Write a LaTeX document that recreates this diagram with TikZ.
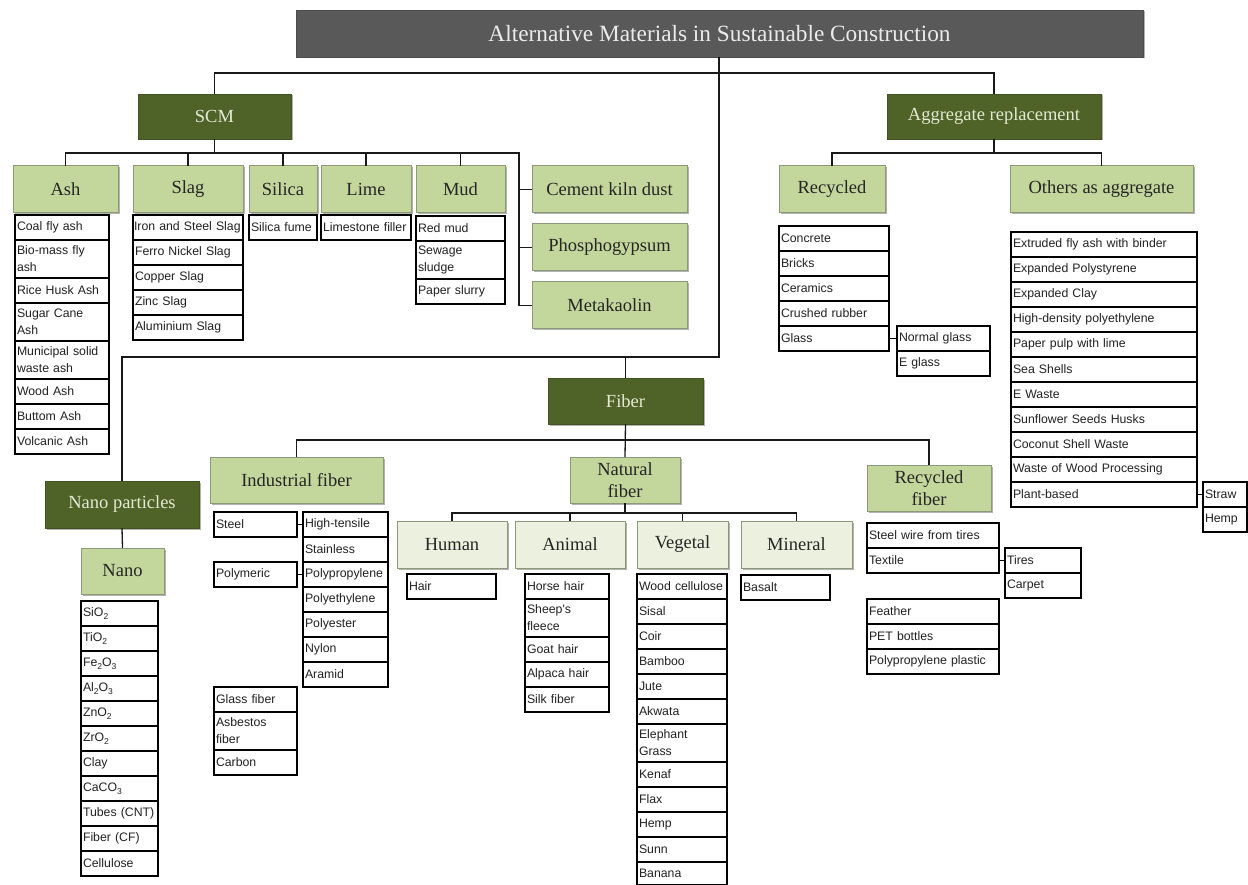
\documentclass[tikz,border=0pt]{standalone}
\usepackage{fontspec}
\setmainfont{Liberation Serif}
\newfontfamily\arialf{Liberation Sans}
\usetikzlibrary{shadows}
\definecolor{titlegray}{HTML}{595959}
\definecolor{olive}{HTML}{4F6228}
\definecolor{lgreen}{HTML}{C3D69B}
\definecolor{pgreen}{HTML}{EBF1DE}
\definecolor{hdrtxt}{HTML}{E3EAD3}
\definecolor{itemtxt}{HTML}{222222}
\definecolor{boxline}{HTML}{8C9A7A}
\newcommand\chsub[1]{\raisebox{-3pt}{\fontsize{8.5}{8}\selectfont #1}}
\begin{document}
\begin{tikzpicture}[x=1pt,y=-1pt,
  every node/.style={outer sep=0pt},
  sz/.style 2 args={minimum width=#1pt, minimum height=#2pt},
  box/.style={anchor=north west, inner sep=0pt, align=center,
    drop shadow={shadow xshift=1.5pt, shadow yshift=-1.5pt, fill=black, opacity=0.3}},
  ttl/.style={box, fill=titlegray, draw=titlegray!85!black, text=white!92!black,
    font=\fontsize{23.3}{25}\selectfont},
  dark/.style={box, fill=olive, draw=olive!85!black, text=hdrtxt,
    font=\fontsize{18.5}{21}\selectfont},
  cat/.style={box, fill=lgreen, draw=boxline, line width=1pt, text=black!85,
    font=\fontsize{18.5}{21}\selectfont},
  sub/.style={box, fill=pgreen, draw=boxline, line width=1pt, text=black!85,
    font=\fontsize{18.5}{21}\selectfont},
  item/.style={draw=black, line width=1.2pt, fill=white, anchor=north west,
    inner xsep=2pt, inner ysep=0pt, minimum height=25pt, align=left, text=itemtxt,
    font=\arialf\fontsize{12.3}{17}\selectfont},
  tall/.style={minimum height=38pt},
  tw/.style={text width=#1pt},
  conn/.style={draw=black!90, line width=1.3pt}]
\useasboundingbox[fill=white] (0,0) rectangle (1248,885);

% ---------- header boxes ----------
\node[ttl, sz={847}{47}] (title) at (296,10) {Alternative Materials in Sustainable Construction};
\node[dark, sz={153}{45}] (scm) at (138,94) {SCM};
\node[dark, sz={214}{45}] (agg) at (887,94) {Aggregate replacement};
\node[dark, sz={155}{46}] (fiber) at (548,378) {Fiber};
\node[dark, sz={154}{47}] (nanop) at (45,481) {Nano particles};

% ---------- SCM categories ----------
\node[cat, sz={105}{47}] (ash) at (13,166) {Ash};
\node[cat, sz={110}{47}] (slag) at (133,166) {Slag};
\node[cat, sz={68}{47}] (silica) at (249,166) {Silica};
\node[cat, sz={90}{47}] (lime) at (321,166) {Lime};
\node[cat, sz={89}{47}] (mud) at (416,166) {Mud};
\node[cat, sz={155}{47}] (ckd) at (532,166) {Cement kiln dust};
\node[cat, sz={155}{47}] (phos) at (532,224) {Phosphogypsum};
\node[cat, sz={155}{47}] (meta) at (532,282) {Metakaolin};

% ---------- Aggregate categories ----------
\node[cat, sz={106}{47}] (recy) at (779,166) {Recycled};
\node[cat, sz={183}{47}] (oth) at (1010,166) {Others as aggregate};

% ---------- Nano ----------
\node[cat, sz={83}{46}] (nano) at (81,548) {Nano};

% ---------- Fiber categories ----------
\node[cat, sz={173}{46}] (ind) at (210,457) {Industrial fiber};
\node[cat, sz={110}{46}, font=\fontsize{18.5}{22}\selectfont] (nat) at (570,457) {Natural\\fiber};
\node[cat, sz={124}{46}, font=\fontsize{18.5}{22}\selectfont] (recf) at (867,465) {Recycled\\fiber};
\node[sub, sz={110}{47}] (human) at (397,521) {Human};
\node[sub, sz={110}{47}] (animal) at (515,521) {Animal};
\node[sub, sz={91}{47}] (vegetal) at (637,521) {Vegetal};
\node[sub, sz={111}{47}] (mineral) at (741,521) {Mineral};

% ---------- connectors ----------
\coordinate (tbus) at (719,73);
\coordinate (corner) at (719,357);
\draw[conn] (title.south -| corner) -- (corner) -| (nanop.north);
\draw[conn] (scm.north) |- (tbus) -| (agg.north);
\draw[conn] (fiber.north) -- (fiber.north |- corner);
\draw[conn] (nanop.south) -- (nano.north);

\coordinate (scmbus) at (214.5,153);
\coordinate (mbus) at (519,153);
\draw[conn] (scm.south) -- (scmbus);
\draw[conn] (ash.north) |- (scmbus);
\draw[conn] (slag.north) |- (scmbus);
\draw[conn] (silica.north) |- (scmbus);
\draw[conn] (lime.north) |- (scmbus);
\draw[conn] (mud.north) |- (scmbus);
\draw[conn] (scmbus) -- (mbus) |- (meta.west);
\draw[conn] (ckd.west) -- (ckd.west -| mbus);
\draw[conn] (phos.west) -- (phos.west -| mbus);

\coordinate (aggbus) at (994,153);
\draw[conn] (agg.south) -- (aggbus);
\draw[conn] (recy.north) |- (aggbus) -| (oth.north);

\coordinate (fbus) at (625.5,440);
\draw[conn] (fiber.south) -- (nat.north);
\draw[conn] (ind.north) |- (fbus) -| (recf.north);

\coordinate (nbus) at (625,513);
\draw[conn] (nat.south) -- (nbus);
\draw[conn] (human.north) |- (nbus) -| (mineral.north);
\draw[conn] (animal.north) |- (nbus);
\draw[conn] (vegetal.north) |- (nbus);

% ---------- Ash items ----------
\node[item, tw=90] (a1) at (15,215) {Coal fly ash};
\node[item, tw=90, tall] (a2) at (a1.south west) {Bio-mass fly\\ash};
\node[item, tw=90] (a3) at (a2.south west) {Rice Husk Ash};
\node[item, tw=90, tall] (a4) at (a3.south west) {Sugar Cane\\Ash};
\node[item, tw=90, tall] (a5) at (a4.south west) {Municipal solid\\waste ash};
\node[item, tw=90] (a6) at (a5.south west) {Wood Ash};
\node[item, tw=90] (a7) at (a6.south west) {Buttom Ash};
\node[item, tw=90] (a8) at (a7.south west) {Volcanic Ash};

% ---------- Slag items ----------
\node[item, tw=108, inner xsep=1pt] (s1) at (133,215) {Iron and Steel Slag};
\node[item, tw=106] (s2) at (s1.south west) {Ferro Nickel Slag};
\node[item, tw=106] (s3) at (s2.south west) {Copper Slag};
\node[item, tw=106] (s4) at (s3.south west) {Zinc Slag};
\node[item, tw=106] (s5) at (s4.south west) {Aluminium Slag};

\node[item, tw=64] (sf) at (249,215) {Silica fume};
\node[item, tw=86] (lf) at (321,215) {Limestone filler};

\node[item, tw=85] (m1) at (416,216) {Red mud};
\node[item, tw=85, tall] (m2) at (m1.south west) {Sewage\\sludge};
\node[item, tw=85] (m3) at (m2.south west) {Paper slurry};

% ---------- Recycled aggregate ----------
\node[item, tw=106] (r1) at (779,226) {Concrete};
\node[item, tw=106] (r2) at (r1.south west) {Bricks};
\node[item, tw=106] (r3) at (r2.south west) {Ceramics};
\node[item, tw=106] (r4) at (r3.south west) {Crushed rubber};
\node[item, tw=106] (r5) at (r4.south west) {Glass};
\node[item, tw=89] (g1) at (r5.north west -| 897,0) {Normal glass};
\node[item, tw=89] (g2) at (g1.south west) {E glass};
\draw[line width=1pt] (r5.east) -- (g1.west);

% ---------- Others as aggregate ----------
\node[item, tw=182] (o1) at (1011,232) {Extruded fly ash with binder};
\node[item, tw=182] (o2) at (o1.south west) {Expanded Polystyrene};
\node[item, tw=182] (o3) at (o2.south west) {Expanded Clay};
\node[item, tw=182] (o4) at (o3.south west) {High-density polyethylene};
\node[item, tw=182] (o5) at (o4.south west) {Paper pulp with lime};
\node[item, tw=182] (o6) at (o5.south west) {Sea Shells};
\node[item, tw=182] (o7) at (o6.south west) {E Waste};
\node[item, tw=182] (o8) at (o7.south west) {Sunflower Seeds Husks};
\node[item, tw=182] (o9) at (o8.south west) {Coconut Shell Waste};
\node[item, tw=182] (o10) at (o9.south west) {Waste of Wood Processing};
\node[item, tw=182] (o11) at (o10.south west) {Plant-based};
\node[item, tw=40] (p1) at (o11.north west -| 1203,0) {Straw};
\node[item, tw=40] (p2) at (p1.south west) {Hemp};
\draw[line width=1pt] (o11.east) -- (p1.west);

% ---------- Nano items ----------
\node[item, tw=73] (n1) at (81,601) {SiO\chsub{2}};
\node[item, tw=73] (n2) at (n1.south west) {TiO\chsub{2}};
\node[item, tw=73] (n3) at (n2.south west) {Fe\chsub{2}O\chsub{3}};
\node[item, tw=73] (n4) at (n3.south west) {Al\chsub{2}O\chsub{3}};
\node[item, tw=73] (n5) at (n4.south west) {ZnO\chsub{2}};
\node[item, tw=73] (n6) at (n5.south west) {ZrO\chsub{2}};
\node[item, tw=73] (n7) at (n6.south west) {Clay};
\node[item, tw=73] (n8) at (n7.south west) {CaCO\chsub{3}};
\node[item, tw=73] (n9) at (n8.south west) {Tubes (CNT)};
\node[item, tw=73] (n10) at (n9.south west) {Fiber (CF)};
\node[item, tw=73] (n11) at (n10.south west) {Cellulose};

% ---------- Industrial fiber ----------
\node[item, tw=79] (st) at (214,512) {Steel};
\node[item, tw=79] (pm) at (214,562) {Polymeric};
\node[item, tw=81] (i1) at (303,512) {High-tensile};
\node[item, tw=81] (i2) at (i1.south west) {Stainless};
\node[item, tw=81] (i3) at (i2.south west) {Polypropylene};
\node[item, tw=81] (i4) at (i3.south west) {Polyethylene};
\node[item, tw=81] (i5) at (i4.south west) {Polyester};
\node[item, tw=81] (i6) at (i5.south west) {Nylon};
\node[item, tw=81] (i7) at (i6.south west) {Aramid};
\draw[line width=1pt] (st.east) -- (i1.west);
\draw[line width=1pt] (pm.east) -- (i3.west);
\node[item, tw=79] (gf1) at (214,687) {Glass fiber};
\node[item, tw=79, tall] (gf2) at (gf1.south west) {Asbestos\\fiber};
\node[item, tw=79] (gf3) at (gf2.south west) {Carbon};

% ---------- Natural fiber ----------
\node[item, tw=85] (hu1) at (407,574) {Hair};

\node[item, tw=80] (an1) at (525,574) {Horse hair};
\node[item, tw=80, tall] (an2) at (an1.south west) {Sheep's\\fleece};
\node[item, tw=80] (an3) at (an2.south west) {Goat hair};
\node[item, tw=80] (an4) at (an3.south west) {Alpaca hair};
\node[item, tw=80] (an5) at (an4.south west) {Silk fiber};

\node[item, tw=86] (v1) at (637,574) {Wood cellulose};
\node[item, tw=86] (v2) at (v1.south west) {Sisal};
\node[item, tw=86] (v3) at (v2.south west) {Coir};
\node[item, tw=86] (v4) at (v3.south west) {Bamboo};
\node[item, tw=86] (v5) at (v4.south west) {Jute};
\node[item, tw=86] (v6) at (v5.south west) {Akwata};
\node[item, tw=86, tall] (v7) at (v6.south west) {Elephant\\Grass};
\node[item, tw=86] (v8) at (v7.south west) {Kenaf};
\node[item, tw=86] (v9) at (v8.south west) {Flax};
\node[item, tw=86] (v10) at (v9.south west) {Hemp};
\node[item, tw=86] (v11) at (v10.south west) {Sunn};
\node[item, tw=86, minimum height=23pt] (v12) at (v11.south west) {Banana};

\node[item, tw=85] (mi1) at (741,575) {Basalt};

% ---------- Recycled fiber ----------
\node[item, tw=128] (rf1) at (867,523) {Steel wire from tires};
\node[item, tw=128] (rf2) at (rf1.south west) {Textile};
\node[item, tw=72] (t1) at (rf2.north west -| 1005,0) {Tires};
\node[item, tw=72] (t2) at (t1.south west) {Carpet};
\draw[line width=1pt] (rf2.east) -- (t1.west);
\node[item, tw=128] (rf3) at (867,599) {Feather};
\node[item, tw=128] (rf4) at (rf3.south west) {PET bottles};
\node[item, tw=128] (rf5) at (rf4.south west) {Polypropylene plastic};
\end{tikzpicture}
\end{document}
